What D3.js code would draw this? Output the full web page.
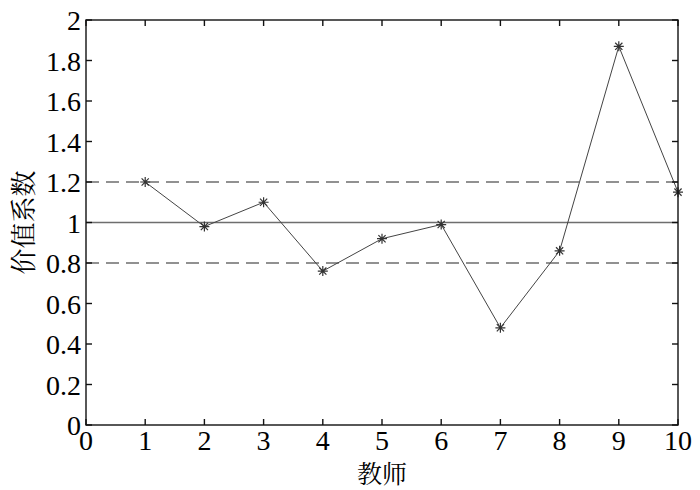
<!DOCTYPE html>
<html>
<head>
<meta charset="utf-8">
<script src="https://cdn.jsdelivr.net/npm/d3@7"></script>
<style>
  body { margin: 0; background: #fff; }
</style>
</head>
<body>
<div id="chart"></div>
<script>
// teachers and their value coefficients
const teachers = [1, 2, 3, 4, 5, 6, 7, 8, 9, 10];
const coefs = [1.2, 0.98, 1.1, 0.76, 0.92, 0.99, 0.48, 0.86, 1.87, 1.15];
const xTicks = [0, 1, 2, 3, 4, 5, 6, 7, 8, 9, 10];
const yTicks = [0, 0.2, 0.4, 0.6, 0.8, 1, 1.2, 1.4, 1.6, 1.8, 2];
const refDashed = [0.8, 1.2];
const refSolid = [1];

const width = 700, height = 490;
const margin = { top: 20, right: 22, bottom: 65, left: 86 };
const serif = "'Liberation Serif', 'Times New Roman', 'DejaVu Serif', serif";
const cjk = "'Noto Serif CJK SC', 'Noto Sans CJK SC', serif";

const svg = d3.select("#chart").append("svg")
    .attr("width", width)
    .attr("height", height);

const x = d3.scaleLinear().domain([0, 10]).range([margin.left, width - margin.right]);
const y = d3.scaleLinear().domain([0, 2]).range([height - margin.bottom, margin.top]);

// reference lines
svg.selectAll(".dash")
    .data(refDashed)
    .enter().append("line")
    .attr("x1", x(0)).attr("x2", x(10))
    .attr("y1", d => y(d)).attr("y2", d => y(d))
    .attr("stroke", "#6e6e6e")
    .attr("stroke-width", 1.3)
    .attr("stroke-dasharray", "13,7");

svg.selectAll(".solid")
    .data(refSolid)
    .enter().append("line")
    .attr("x1", x(0)).attr("x2", x(10))
    .attr("y1", d => y(d)).attr("y2", d => y(d))
    .attr("stroke", "#6e6e6e")
    .attr("stroke-width", 1.3);

// data line
const line = d3.line()
    .x((d, i) => x(teachers[i]))
    .y(d => y(d));

svg.append("path")
    .datum(coefs)
    .attr("d", line)
    .attr("fill", "none")
    .attr("stroke", "#444")
    .attr("stroke-width", 1);

// asterisk markers
const r = 5;
svg.selectAll(".star")
    .data(coefs)
    .enter().append("path")
    .attr("d", (d, i) => {
        const cx = x(teachers[i]), cy = y(d), q = r * 0.72;
        return "M" + (cx - r) + "," + cy + "H" + (cx + r) +
            "M" + cx + "," + (cy - r) + "V" + (cy + r) +
            "M" + (cx - q) + "," + (cy - q) + "L" + (cx + q) + "," + (cy + q) +
            "M" + (cx - q) + "," + (cy + q) + "L" + (cx + q) + "," + (cy - q);
    })
    .attr("stroke", "#333")
    .attr("stroke-width", 1.2)
    .attr("fill", "none");

// box with inward ticks
const axes = svg.append("g").attr("stroke", "#111").attr("stroke-width", 1.4);
axes.append("rect")
    .attr("x", x(0)).attr("y", y(2))
    .attr("width", x(10) - x(0)).attr("height", y(0) - y(2))
    .attr("fill", "none");

const tl = 6;
axes.selectAll(".xb").data(xTicks).enter().append("line")
    .attr("x1", d => x(d)).attr("x2", d => x(d))
    .attr("y1", y(0)).attr("y2", y(0) - tl);
axes.selectAll(".xt").data(xTicks).enter().append("line")
    .attr("x1", d => x(d)).attr("x2", d => x(d))
    .attr("y1", y(2)).attr("y2", y(2) + tl);
axes.selectAll(".yl").data(yTicks).enter().append("line")
    .attr("x1", x(0)).attr("x2", x(0) + tl)
    .attr("y1", d => y(d)).attr("y2", d => y(d));
axes.selectAll(".yr").data(yTicks).enter().append("line")
    .attr("x1", x(10)).attr("x2", x(10) - tl)
    .attr("y1", d => y(d)).attr("y2", d => y(d));

// tick labels
svg.selectAll(".xl").data(xTicks).enter().append("text")
    .attr("x", d => x(d))
    .attr("y", y(0) + 25)
    .attr("text-anchor", "middle")
    .attr("font-family", serif)
    .attr("font-size", 28)
    .text(d => d);

svg.selectAll(".ylab").data(yTicks).enter().append("text")
    .attr("x", x(0) - 5)
    .attr("y", d => y(d) + 10)
    .attr("text-anchor", "end")
    .attr("font-family", serif)
    .attr("font-size", 28)
    .text(d => d);

// axis titles
svg.append("text")
    .attr("x", (x(0) + x(10)) / 2)
    .attr("y", height - 7)
    .attr("text-anchor", "middle")
    .attr("font-family", cjk)
    .attr("font-size", 25)
    .text("教师");

svg.append("text")
    .attr("transform", "translate(33," + ((y(0) + y(2)) / 2) + ") rotate(-90)")
    .attr("text-anchor", "middle")
    .attr("font-family", cjk)
    .attr("font-size", 26)
    .text("价值系数");
</script>
</body>
</html>
